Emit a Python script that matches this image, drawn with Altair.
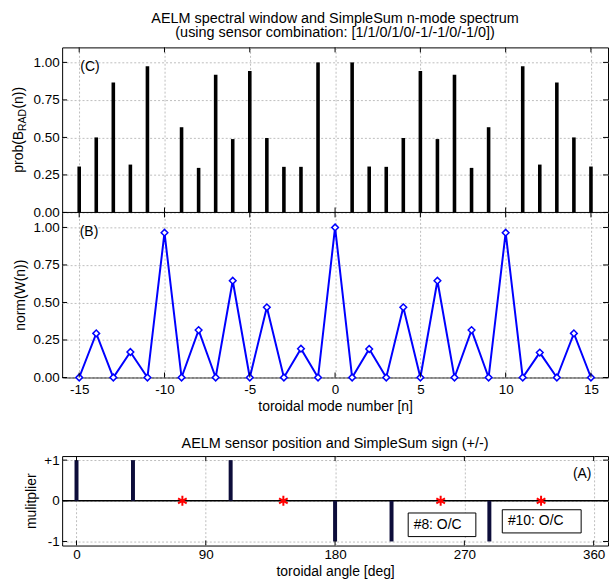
import altair as alt
import pandas as pd

# ---------------- data ----------------
n_modes = list(range(-15, 16))
prob_brad = [0.306, 0.50, 0.866, 0.319, 0.974, 0.0, 0.568, 0.297, 0.918, 0.489,
             0.943, 0.496, 0.304, 0.304, 1.00, 0.0, 1.00, 0.306, 0.304, 0.496,
             0.943, 0.489, 0.918, 0.297, 0.568, 0.0, 0.974, 0.319, 0.866, 0.50, 0.306]
norm_w = [0, 0.294, 0, 0.17, 0, 0.965, 0, 0.316, 0, 0.645, 0, 0.468, 0, 0.192, 0,
          1.0, 0, 0.19, 0, 0.468, 0, 0.645, 0, 0.316, 0, 0.965, 0, 0.166, 0, 0.294, 0]
sensor_angle = [0.0, 39.3, 73.7, 107.3, 144.0, 180.0, 219.3, 253.5, 287.4, 323.4]
sensor_sign = [1, 1, 0, 1, 0, -1, -1, 0, -1, 0]

oc_text = ["#8: O/C", "#10: O/C"]
oc_box_x0 = [230.9, 296.4]
oc_box_x1 = [278.0, 351.3]
oc_box_y0 = [-0.30, -0.22]
oc_box_y1 = [-0.88, -0.79]
oc_text_x = [234.7, 300.3]
oc_text_y = [-0.59, -0.50]

n_ticks = [-15, -10, -5, 0, 5, 10, 15]
p_ticks = [0, 0.25, 0.5, 0.75, 1.0]
ang_ticks = [0, 90, 180, 270, 360]
sign_ticks = [-1, 0, 1]

# ---------------- style ----------------
FONT = "Liberation Sans"
W = 549
H = 166          # height of each of the two upper panels
H3 = 90
TK = 5
SEP = 1.1        # y-limit of each upper panel; panel (C) is stacked on top of (B)
GRID = dict(grid=True, gridColor="#bdbdbd", gridDash=[2, 2], gridWidth=1)
NOTK = dict(ticks=False, tickSize=0, domain=False)


def inward_ticks(xvals, yvals, X, Y, w, h):
    dxf = pd.DataFrame({"tx": xvals})
    dyf = pd.DataFrame({"ty": yvals})
    layers = []
    for y0, y1 in [(0, TK), (h - TK, h)]:
        layers.append(alt.Chart(dxf).mark_rule(color="black", strokeWidth=1).encode(
            x=X("tx"), y=alt.value(y0), y2=alt.value(y1)))
    for x0, x1 in [(0, TK), (w - TK, w)]:
        layers.append(alt.Chart(dyf).mark_rule(color="black", strokeWidth=1).encode(
            y=Y("ty"), x=alt.value(x0), x2=alt.value(x1)))
    return layers


def label(txt, x, y, size=14):
    return alt.Chart(pd.DataFrame({"t": [txt]})).mark_text(
        font=FONT, fontSize=size, color="black").encode(
        text="t:N", x=alt.value(x), y=alt.value(y))


def vtext(txt, x, y, size, dx, dy):
    return alt.Chart(pd.DataFrame({"t": [txt]})).mark_text(
        font=FONT, fontSize=size, angle=270, align="left", baseline="middle",
        dx=dx, dy=dy, color="black").encode(text="t:N", x=alt.value(x), y=alt.value(y))


# ---------------- upper panels (C) over (B) ----------------
xs_n = alt.Scale(domain=[-16, 16], nice=False, zero=False)
ys_u = alt.Scale(domain=[0, 2 * SEP], nice=False, zero=False)
y_tick_vals = list(p_ticks) + [v + SEP for v in p_ticks]

ax_n_x = alt.Axis(values=n_ticks, labelExpr="'' + datum.value", labelPadding=4.8,
                  title="toroidal mode number [n]", titlePadding=4, **NOTK, **GRID)
ax_u_y = alt.Axis(values=y_tick_vals,
                  labelExpr=f"format(datum.value > {SEP} - 0.01 ? datum.value - {SEP} : datum.value, '.2f')",
                  labelPadding=3, title=None, **NOTK, **GRID)


def X_u(f):
    return alt.X(f"{f}:Q", scale=xs_n, axis=ax_n_x)


def Y_u(f):
    return alt.Y(f"{f}:Q", scale=ys_u, axis=ax_u_y)


df_top = pd.DataFrame({"n": n_modes, "p": prob_brad})
bars_top = alt.Chart(df_top).transform_calculate(py=f"datum.p + {SEP}").mark_rule(
    color="black", strokeWidth=3.6).encode(x=X_u("n"), y=Y_u("py"), y2=alt.datum(SEP))

sep_line = alt.Chart(pd.DataFrame({"s": [SEP]})).mark_rule(color="black", strokeWidth=1).encode(
    y=Y_u("s"), x=alt.value(0), x2=alt.value(W))
sep_ticks = alt.Chart(pd.DataFrame({"tx": n_ticks, "s": [SEP] * len(n_ticks)})).mark_rule(
    color="black", strokeWidth=1, yOffset=-TK, y2Offset=TK).encode(
    x=X_u("tx"), y=Y_u("s"), y2="s:Q")

df_mid = pd.DataFrame({"n": n_modes, "w": norm_w})
line_mid = alt.Chart(df_mid).mark_line(color="#0000ff", strokeWidth=2).encode(
    x=X_u("n"), y=Y_u("w"))
pts_mid = alt.Chart(df_mid).mark_point(
    shape="diamond", size=45, filled=True, fill="white", stroke="#0000ff",
    strokeWidth=1.5, opacity=1).encode(x=X_u("n"), y=Y_u("w"))

TX = -43
upper = alt.layer(
    sep_line, bars_top, line_mid, pts_mid, sep_ticks,
    *inward_ticks(n_ticks, y_tick_vals, X_u, Y_u, W, 2 * H),
    label("(C)", 28, 20), label("(B)", 27, H + 20),
    vtext("prob(B", TX, H / 2, 14, -43, 0),
    vtext("RAD", TX, H / 2, 10.5, -1, 4),
    vtext("(n))", TX, H / 2, 14, 21.5, 0),
    vtext("norm(W(n))", TX + 1.5, H + H / 2, 14, -36, 0),
).properties(
    width=W, height=2 * H,
    title=alt.TitleParams(
        text=["AELM spectral window and SimpleSum n-mode spectrum",
              "\u00a0(using sensor combination: [1/1/0/1/0/-1/-1/0/-1/0])"],
        anchor="middle", frame="group", offset=6, lineHeight=15,
        fontSize=14.5, fontWeight="normal", font=FONT, color="black"),
)

# ---------------- bottom panel (A) ----------------
xs_a = alt.Scale(domain=[-10, 370], nice=False, zero=False)
ys_s = alt.Scale(domain=[-1.1, 1.1], nice=False, zero=False)
ax_a_x = alt.Axis(values=ang_ticks, labelPadding=2, title="toroidal angle [deg]",
                  titlePadding=4, **NOTK, **GRID)
ax_s_y = alt.Axis(values=sign_ticks,
                  labelExpr="datum.value > 0 ? '+' + datum.value : '' + datum.value",
                  labelPadding=3, title="mulitplier", titlePadding=5, **NOTK, **GRID)


def X_bot(f):
    return alt.X(f"{f}:Q", scale=xs_a, axis=ax_a_x)


def Y_bot(f):
    return alt.Y(f"{f}:Q", scale=ys_s, axis=ax_s_y)


df_s = pd.DataFrame({"angle": sensor_angle, "sign": sensor_sign})
zero_line = alt.Chart(pd.DataFrame({"z": [0]})).mark_rule(color="black", strokeWidth=1.5).encode(
    y=Y_bot("z"), x=alt.value(0), x2=alt.value(W))
bars_bot = alt.Chart(df_s).transform_filter("datum.sign != 0").mark_rule(
    color="#0d0d3a", strokeWidth=4).encode(x=X_bot("angle"), y=Y_bot("sign"), y2=alt.datum(0))
ASTERISK = "M0,-1L0,1M-0.87,-0.5L0.87,0.5M-0.87,0.5L0.87,-0.5"
stars = alt.Chart(df_s).transform_filter("datum.sign == 0").mark_point(
    shape=ASTERISK, size=100, filled=False, color="red", strokeWidth=2, opacity=1).encode(
    x=X_bot("angle"), y=Y_bot("sign"))

df_oc = pd.DataFrame({"t": oc_text, "x0": oc_box_x0, "x1": oc_box_x1,
                      "y0": oc_box_y0, "y1": oc_box_y1, "tx": oc_text_x, "ty": oc_text_y})
boxes = alt.Chart(df_oc).mark_rect(fill="white", stroke="black", strokeWidth=1).encode(
    x=X_bot("x0"), x2="x1", y=Y_bot("y0"), y2="y1")
box_txt = alt.Chart(df_oc).mark_text(font=FONT, fontSize=14, align="left",
                                     baseline="middle", color="black").encode(
    x=X_bot("tx"), y=Y_bot("ty"), text="t:N")

bottom = alt.layer(
    zero_line, bars_bot, stars, boxes, box_txt,
    *inward_ticks(ang_ticks, sign_ticks, X_bot, Y_bot, W, H3),
    label("(A)", 523, 18),
).properties(
    width=W, height=H3,
    title=alt.TitleParams(
        text="AELM sensor position and SimpleSum sign (+/-)",
        anchor="middle", frame="group", offset=2,
        fontSize=14.5, fontWeight="normal", font=FONT, color="black"),
)

chart = alt.vconcat(upper, bottom, spacing=21).properties(
    padding={"left": 11.5, "top": 8, "right": 0, "bottom": 0},
    background="white",
).configure_view(
    stroke="black", strokeWidth=1
).configure_axis(
    labelFont=FONT, titleFont=FONT, labelFontSize=13.5, titleFontSize=14,
    labelColor="black", titleColor="black", titleFontWeight="normal",
)

chart.save("out.html", embed_options={"renderer": "svg", "actions": False})
